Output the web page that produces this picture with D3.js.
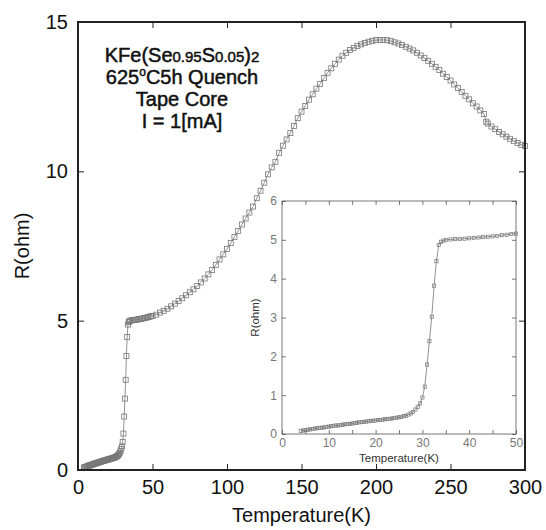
<!DOCTYPE html>
<html><head><meta charset="utf-8">
<script src="https://cdn.jsdelivr.net/npm/d3@7"></script>
<style>body{margin:0;background:#fff}svg{display:block}text{font-family:"Liberation Sans",Arial,sans-serif}</style>
</head><body><svg id="c" width="546" height="530"></svg>
<script>
// Low temperature region (also shown in inset)
const lowT = [4,4.5,5,5.5,6,6.5,7,7.5,8,8.5,9,9.5,10,10.5,11,11.5,12,12.5,13,13.5,14,14.5,15,15.5,16,16.5,17,17.5,18,18.5,19,19.5,20,20.5,21,21.5,22,22.5,23,23.5,24,24.5,25,25.5,26,26.5,27,27.5,28,28.5,29,29.5,30,30.5,31,31.5,32,32.5,33,33.5,34,34.5,35,36,37,38,39,40,41,42,43,44,45,46,47,48,49,50];
const lowR = [0.08,0.09,0.10,0.11,0.12,0.13,0.14,0.15,0.16,0.16,0.17,0.18,0.19,0.20,0.21,0.22,0.22,0.23,0.24,0.25,0.26,0.26,0.27,0.28,0.29,0.30,0.31,0.31,0.32,0.33,0.34,0.34,0.35,0.36,0.36,0.37,0.38,0.39,0.39,0.40,0.41,0.42,0.43,0.44,0.46,0.47,0.50,0.53,0.57,0.63,0.70,0.79,0.94,1.22,1.79,2.39,3.02,3.82,4.45,4.87,4.95,4.98,5.00,5.01,5.02,5.02,5.03,5.04,5.05,5.06,5.07,5.08,5.09,5.10,5.12,5.13,5.15,5.16];
// High temperature region (main plot only)
const highT = [52.5,55,57.5,60,62.5,65,67.5,70,72.5,75,77.5,80,82.5,85,87.5,90,92.5,95,97.5,100,102.5,105,107.5,110,112.5,115,117.5,120,122.5,125,127.5,130,132.5,135,137.5,140,142.5,145,147.5,150,152.5,155,157.5,160,162.5,165,167.5,170,172.5,175,177.5,180,182.5,185,187.5,190,192.5,195,197.5,200,202.5,205,207.5,210,212.5,215,217.5,220,222.5,225,227.5,230,232.5,235,237.5,240,242.5,245,247.5,250,252.5,255,257.5,260,262.5,265,267.5,270,272.5,274,275,277.5,280,282.5,285,287.5,290,292.5,295,297.5,300];
const highR = [5.20,5.27,5.33,5.40,5.48,5.57,5.66,5.75,5.85,5.95,6.05,6.16,6.28,6.41,6.55,6.70,6.87,7.05,7.22,7.40,7.60,7.80,8.00,8.22,8.42,8.62,8.82,9.10,9.35,9.62,9.90,10.13,10.32,10.62,10.86,11.07,11.28,11.52,11.78,12.00,12.19,12.40,12.58,12.77,12.93,13.12,13.30,13.45,13.60,13.74,13.87,13.97,14.06,14.13,14.20,14.25,14.30,14.34,14.37,14.39,14.40,14.40,14.39,14.36,14.32,14.28,14.23,14.17,14.11,14.05,13.97,13.88,13.79,13.70,13.60,13.50,13.39,13.27,13.16,13.04,12.91,12.79,12.66,12.53,12.41,12.28,12.17,12.04,11.92,11.66,11.60,11.50,11.41,11.32,11.24,11.16,11.09,11.01,10.95,10.89,10.85];

const mainXTicks = [0,50,100,150,200,250,300];
const mainYTicks = [0,5,10,15];
const insetXTicks = [0,10,20,30,40,50];
const insetYTicks = [0,1,2,3,4,5,6];

const svg = d3.select("#c");

// ---------- Main plot ----------
const M = {l:78, r:525, t:22, b:470};
const x = d3.scaleLinear().domain([0,300]).range([M.l, M.r]);
const y = d3.scaleLinear().domain([0,15]).range([M.b, M.t]);

const mainData = lowT.map((t,i)=>[t,lowR[i]]).concat(highT.map((t,i)=>[t,highR[i]]));

const gMain = svg.append("g");
gMain.append("path").datum(mainData)
  .attr("fill","none").attr("stroke","#777").attr("stroke-width",0.8)
  .attr("d", d3.line().x(d=>x(d[0])).y(d=>y(d[1])));
gMain.selectAll("rect.m").data(mainData).join("rect").attr("class","m")
  .attr("x",d=>x(d[0])-2.5).attr("y",d=>y(d[1])-2.5)
  .attr("width",5).attr("height",5)
  .attr("fill","none").attr("stroke","#777").attr("stroke-width",0.8);

const axB = d3.axisBottom(x).tickValues(mainXTicks).tickSize(-6).tickPadding(10).tickFormat(d3.format("d"));
const axT = d3.axisTop(x).tickValues(mainXTicks).tickSize(-6).tickFormat("");
const axL = d3.axisLeft(y).tickValues(mainYTicks).tickSize(-6).tickPadding(10).tickFormat(d3.format("d"));
const axR = d3.axisRight(y).tickValues(mainYTicks).tickSize(-6).tickFormat("");

function styleAxis(g, fs, col){
  g.select(".domain").remove();
  g.selectAll(".tick line").attr("stroke","#222").attr("stroke-width",1);
  g.selectAll(".tick text").attr("font-size",fs).attr("fill",col).attr("font-family","Liberation Sans, Arial, sans-serif");
}
svg.append("g").attr("transform",`translate(0,${M.b})`).call(axB).call(g=>styleAxis(g,20,"#111"));
svg.append("g").attr("transform",`translate(0,${M.t})`).call(axT).call(g=>styleAxis(g,20,"#111"));
svg.append("g").attr("transform",`translate(${M.l},0)`).call(axL).call(g=>styleAxis(g,20,"#111"));
svg.append("g").attr("transform",`translate(${M.r},0)`).call(axR).call(g=>styleAxis(g,20,"#111"));

svg.append("rect").attr("x",M.l).attr("y",M.t).attr("width",M.r-M.l).attr("height",M.b-M.t)
  .attr("fill","none").attr("stroke","#222").attr("stroke-width",2);

svg.append("text").attr("x",(M.l+M.r)/2).attr("y",522).attr("text-anchor","middle")
  .attr("font-size",20).attr("fill","#111").text("Temperature(K)");
svg.append("text").attr("transform",`translate(29,${(M.t+M.b)/2}) rotate(-90)`).attr("text-anchor","middle")
  .attr("font-size",20).attr("fill","#111").text("R(ohm)");

// annotation
const ann = svg.append("g").attr("font-size",20).attr("fill","#111").attr("text-anchor","middle")
  .attr("stroke","#111").attr("stroke-width",0.5);
const cx = 182;
const t1 = ann.append("text").attr("x",cx).attr("y",62);
t1.append("tspan").text("KFe(Se");
t1.append("tspan").attr("font-size",15).text("0.95");
t1.append("tspan").text("S");
t1.append("tspan").attr("font-size",15).text("0.05");
t1.append("tspan").text(")");
t1.append("tspan").attr("font-size",15).text("2");
const t2 = ann.append("text").attr("x",cx).attr("y",84);
t2.append("tspan").text("625");
t2.append("tspan").attr("font-size",12).attr("dy",-8).text("o");
t2.append("tspan").attr("dy",8).text("C5h Quench");
ann.append("text").attr("x",cx).attr("y",106).text("Tape Core");
ann.append("text").attr("x",cx).attr("y",128).text("I = 1[mA]");

// ---------- Inset ----------
const I = {l:282, r:516, t:201, b:434};
const xi = d3.scaleLinear().domain([0,50]).range([I.l, I.r]);
const yi = d3.scaleLinear().domain([0,6]).range([I.b, I.t]);

svg.append("rect").attr("x",I.l).attr("y",I.t).attr("width",I.r-I.l).attr("height",I.b-I.t)
  .attr("fill","#fff").attr("stroke","none");

const insetData = lowT.map((t,i)=>[t,lowR[i]]);
svg.append("path").datum(insetData)
  .attr("fill","none").attr("stroke","#777").attr("stroke-width",0.8)
  .attr("d", d3.line().x(d=>xi(d[0])).y(d=>yi(d[1])));
svg.selectAll("rect.i").data(insetData).join("rect").attr("class","i")
  .attr("x",d=>xi(d[0])-1.6).attr("y",d=>yi(d[1])-1.6)
  .attr("width",3.2).attr("height",3.2)
  .attr("fill","none").attr("stroke","#777").attr("stroke-width",0.7);

const minorX = d3.range(0,51,5);
const iB = d3.axisBottom(xi).tickValues(minorX).tickSize(-4).tickPadding(4)
  .tickFormat(d=> insetXTicks.includes(d) ? d : "");
const iT = d3.axisTop(xi).tickValues(minorX).tickSize(-4).tickFormat("");
const iL = d3.axisLeft(yi).tickValues(insetYTicks).tickSize(-4).tickPadding(5).tickFormat(d3.format("d"));
const iR = d3.axisRight(yi).tickValues(insetYTicks).tickSize(-4).tickFormat("");
function styleInset(g){
  g.select(".domain").remove();
  g.selectAll(".tick line").attr("stroke","#555").attr("stroke-width",0.8);
  g.selectAll(".tick text").attr("font-size",12).attr("fill","#777");
}
svg.append("g").attr("transform",`translate(0,${I.b})`).call(iB).call(styleInset);
svg.append("g").attr("transform",`translate(0,${I.t})`).call(iT).call(styleInset);
svg.append("g").attr("transform",`translate(${I.l},0)`).call(iL).call(styleInset);
svg.append("g").attr("transform",`translate(${I.r},0)`).call(iR).call(styleInset);

svg.append("rect").attr("x",I.l).attr("y",I.t).attr("width",I.r-I.l).attr("height",I.b-I.t)
  .attr("fill","none").attr("stroke","#555").attr("stroke-width",0.8);

svg.append("text").attr("x",(I.l+I.r)/2).attr("y",462).attr("text-anchor","middle")
  .attr("font-size",11.5).attr("fill","#333").text("Temperature(K)");
svg.append("text").attr("transform",`translate(259,${(I.t+I.b)/2}) rotate(-90)`).attr("text-anchor","middle")
  .attr("font-size",11.5).attr("fill","#333").text("R(ohm)");
</script></body></html>
